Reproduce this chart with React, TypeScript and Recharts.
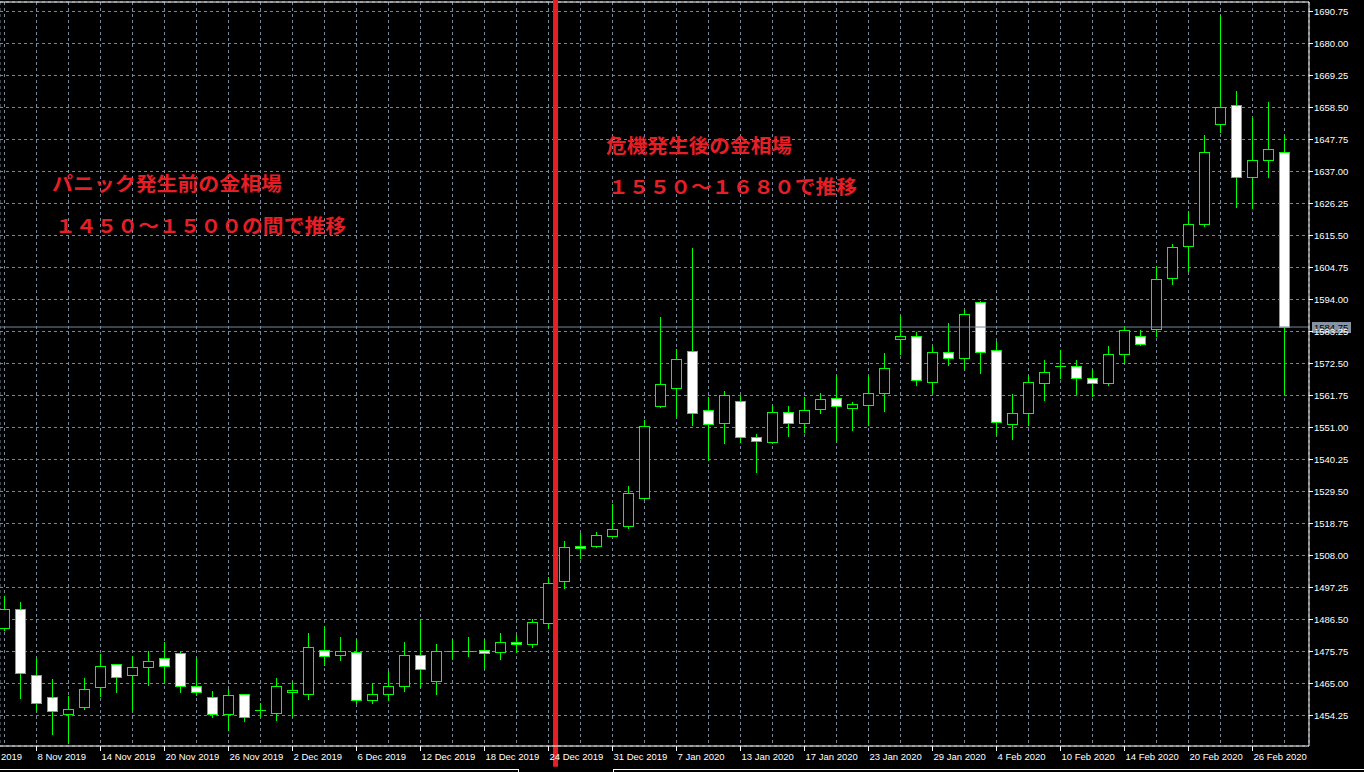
import React from 'react';
import { ComposedChart, Bar, XAxis, YAxis, CartesianGrid, ReferenceLine, Customized } from 'recharts';

const DATES = [
  '6 Nov 2019', '7 Nov 2019', '8 Nov 2019', '11 Nov 2019', '12 Nov 2019', '13 Nov 2019', '14 Nov 2019', '15 Nov 2019',
  '18 Nov 2019', '19 Nov 2019', '20 Nov 2019', '21 Nov 2019', '22 Nov 2019', '25 Nov 2019', '26 Nov 2019', '27 Nov 2019',
  '28 Nov 2019', '29 Nov 2019',
  '2 Dec 2019', '3 Dec 2019', '4 Dec 2019', '5 Dec 2019', '6 Dec 2019', '9 Dec 2019', '10 Dec 2019', '11 Dec 2019',
  '12 Dec 2019', '13 Dec 2019', '16 Dec 2019', '17 Dec 2019', '18 Dec 2019', '19 Dec 2019', '20 Dec 2019', '23 Dec 2019',
  '24 Dec 2019', '26 Dec 2019', '27 Dec 2019', '30 Dec 2019', '31 Dec 2019',
  '2 Jan 2020', '3 Jan 2020', '6 Jan 2020', '7 Jan 2020', '8 Jan 2020', '9 Jan 2020', '10 Jan 2020', '13 Jan 2020',
  '14 Jan 2020', '15 Jan 2020', '16 Jan 2020', '17 Jan 2020', '20 Jan 2020', '21 Jan 2020', '22 Jan 2020', '23 Jan 2020',
  '24 Jan 2020', '27 Jan 2020', '28 Jan 2020', '29 Jan 2020', '30 Jan 2020', '31 Jan 2020',
  '3 Feb 2020', '4 Feb 2020', '5 Feb 2020', '6 Feb 2020', '7 Feb 2020', '10 Feb 2020', '11 Feb 2020', '12 Feb 2020',
  '13 Feb 2020', '14 Feb 2020', '17 Feb 2020', '18 Feb 2020', '19 Feb 2020', '20 Feb 2020', '21 Feb 2020', '24 Feb 2020',
  '25 Feb 2020', '26 Feb 2020', '27 Feb 2020', '28 Feb 2020',
];

const OPEN = [
  1483.7, 1489.9, 1468.0, 1460.3, 1454.8, 1457.2, 1463.9, 1471.4, 1467.9, 1470.7, 1473.7, 1475.1, 1464.2, 1460.3, 1454.8, 1461.6,
  1456.1, 1455.1, 1462.3, 1461.6, 1476.4, 1474.7, 1475.7, 1459.6, 1461.6, 1464.0, 1474.7, 1466.0, 1475.8, 1476.0, 1476.1, 1475.7,
  1478.8, 1478.4, 1485.4, 1499.4, 1511.3, 1511.3, 1514.6, 1518.0, 1527.2, 1558.1, 1564.1, 1576.6, 1556.9, 1552.5, 1559.9, 1547.9,
  1546.2, 1556.3, 1552.6, 1557.3, 1560.9, 1557.6, 1558.6, 1562.6, 1580.8, 1581.6, 1566.4, 1576.5, 1574.2, 1593.0, 1577.2, 1552.3,
  1556.0, 1566.1, 1571.8, 1571.5, 1567.5, 1566.1, 1575.8, 1581.9, 1584.2, 1601.3, 1612.0, 1619.4, 1653.0, 1659.2, 1635.3, 1641.0,
  1643.4,
];

const HIGH = [
  1494.3, 1492.3, 1473.4, 1466.5, 1460.7, 1467.0, 1474.9, 1471.4, 1474.2, 1475.9, 1478.9, 1475.5, 1473.8, 1462.4, 1463.1, 1461.6,
  1458.3, 1466.7, 1465.8, 1481.9, 1484.3, 1480.6, 1479.9, 1465.3, 1469.3, 1478.9, 1486.8, 1478.2, 1479.9, 1480.6, 1479.9, 1481.9,
  1481.2, 1486.5, 1500.7, 1512.7, 1515.4, 1515.9, 1525.3, 1531.4, 1553.5, 1588.1, 1577.4, 1611.2, 1561.4, 1563.4, 1561.7, 1548.9,
  1558.6, 1558.3, 1561.4, 1562.7, 1568.7, 1559.4, 1568.3, 1575.9, 1588.6, 1583.1, 1578.3, 1586.0, 1590.6, 1593.4, 1580.0, 1562.1,
  1568.5, 1573.8, 1576.9, 1573.8, 1570.5, 1578.3, 1585.0, 1583.6, 1605.1, 1612.8, 1623.7, 1649.2, 1689.5, 1664.0, 1655.0, 1660.3,
  1649.4,
];

const LOW = [
  1483.1, 1460.2, 1456.0, 1448.1, 1445.1, 1456.5, 1460.7, 1462.2, 1456.0, 1464.4, 1465.3, 1462.2, 1461.2, 1453.8, 1449.3, 1452.5,
  1454.0, 1452.9, 1453.6, 1459.8, 1471.3, 1473.0, 1458.5, 1458.5, 1459.6, 1462.5, 1463.7, 1461.5, 1473.1, 1474.2, 1469.9, 1473.3,
  1475.5, 1477.3, 1483.8, 1497.2, 1507.1, 1510.7, 1514.5, 1517.2, 1527.0, 1558.0, 1555.0, 1552.0, 1540.1, 1545.8, 1546.2, 1536.2,
  1545.8, 1548.2, 1549.5, 1556.0, 1546.4, 1550.2, 1551.8, 1556.6, 1575.7, 1565.3, 1563.0, 1572.0, 1570.5, 1569.4, 1548.9, 1547.2,
  1551.9, 1560.4, 1567.7, 1562.1, 1561.7, 1565.3, 1572.5, 1578.8, 1581.9, 1599.2, 1603.6, 1618.6, 1650.4, 1625.1, 1624.6, 1635.2,
  1562.3,
];

const CLOSE = [
  1489.9, 1468.4, 1458.6, 1455.6, 1456.3, 1463.3, 1471.0, 1467.2, 1470.7, 1472.4, 1471.0, 1464.3, 1462.0, 1454.8, 1461.3, 1453.8,
  1456.0, 1464.0, 1462.7, 1477.4, 1474.4, 1475.8, 1459.6, 1461.6, 1464.3, 1474.7, 1469.7, 1475.8, 1476.0, 1476.0, 1475.4, 1478.8,
  1478.1, 1485.5, 1498.9, 1510.9, 1510.6, 1514.9, 1517.0, 1529.0, 1551.5, 1565.5, 1573.9, 1556.0, 1552.2, 1561.9, 1547.8, 1546.6,
  1556.3, 1552.6, 1556.9, 1560.6, 1558.3, 1559.0, 1562.6, 1570.9, 1581.6, 1567.1, 1576.5, 1574.2, 1589.0, 1576.5, 1552.7, 1556.0,
  1566.4, 1569.8, 1571.8, 1567.5, 1565.8, 1575.8, 1583.9, 1579.2, 1601.0, 1611.5, 1619.5, 1643.7, 1658.5, 1635.0, 1640.7, 1644.4,
  1584.75,
];

const LABEL_TICKS = [-2, 2, 6, 10, 14, 18, 22, 26, 30, 34, 38, 42, 46, 50, 54, 58, 62, 66, 70, 74, 78];
const LABEL_TEXT = [
  '4 Nov 2019', '8 Nov 2019', '14 Nov 2019', '20 Nov 2019', '26 Nov 2019', '2 Dec 2019', '6 Dec 2019', '12 Dec 2019',
  '18 Dec 2019', '24 Dec 2019', '31 Dec 2019', '7 Jan 2020', '13 Jan 2020', '17 Jan 2020', '23 Jan 2020', '29 Jan 2020',
  '4 Feb 2020', '10 Feb 2020', '14 Feb 2020', '20 Feb 2020', '26 Feb 2020',
];

const PRICE_TICKS = [
  1454.25, 1465.0, 1475.75, 1486.5, 1497.25, 1508.0, 1518.75, 1529.5, 1540.25, 1551.0, 1561.75, 1572.5,
  1583.25, 1594.0, 1604.75, 1615.5, 1626.25, 1637.0, 1647.75, 1658.5, 1669.25, 1680.0, 1690.75,
];

const BID_PRICE = 1584.75;
const CRISIS_INDEX = 34.44;
const CRISIS_PRICE_RANGE = [1437.0, 1694.6];
const X_DOMAIN = [-0.28125, 81.53125];
const Y_DOMAIN = [1444.0, 1693.94];

const NOTES = [
  { text: 'パニック発生前の金相場', x: 52, y: 191, w: 230 },
  { text: '１４５０～１５００の間で推移', x: 55, y: 233, w: 291 },
  { text: '危機発生後の金相場', x: 606, y: 153, w: 186 },
  { text: '１５５０～１６８０で推移', x: 608, y: 194, w: 249 },
];

const X_TICKS = Array.from({ length: 42 }, (_, k) => -2 + 2 * k);

const DATA = DATES.map((d, i) => ({
  i,
  date: d,
  open: OPEN[i],
  high: HIGH[i],
  low: LOW[i],
  close: CLOSE[i],
}));

const GREEN = '#00ff00';
const GRID = '#778899';
const RED = '#e61e26';
const AXIS_FONT = "'Liberation Sans', Arial, sans-serif";

function Candle(props: any) {
  const { x, y, width, height, payload } = props;
  if (x == null || y == null || payload == null) return null;
  const { open, close, high, low } = payload;
  const cx = Math.floor(x + width / 2) + 0.5;
  const span = high - low || 1;
  const py = (v: number) => y + ((high - v) / span) * height;
  const top = Math.round(py(Math.max(open, close))) + 0.5;
  const bot = Math.round(py(Math.min(open, close))) + 0.5;
  const yH = Math.round(py(high));
  const yL = Math.round(py(low)) + 1;
  const bull = close >= open;
  return (
    <g>
      <line x1={cx} x2={cx} y1={yH} y2={yL} stroke={GREEN} strokeWidth={1} />
      {bot - top < 1 ? (
        <line x1={cx - 5.5} x2={cx + 5.5} y1={top} y2={top} stroke={GREEN} strokeWidth={1} />
      ) : (
        <rect x={cx - 5} y={top} width={10} height={bot - top} fill={bull ? '#000000' : '#ffffff'} stroke={GREEN} strokeWidth={1} />
      )}
    </g>
  );
}

function XTick(props: any) {
  const { x, y, payload } = props;
  const idx = LABEL_TICKS.indexOf(payload.value);
  if (idx < 0) return null;
  const px = Math.floor(x) + 0.5;
  return (
    <g>
      <line x1={px} x2={px} y1={y - 5} y2={y} stroke="#ffffff" strokeWidth={1} />
      <text x={px + 1} y={y + 9} fill="#ffffff" fontSize={9.5} fontFamily={AXIS_FONT} textAnchor="start">
        {LABEL_TEXT[idx]}
      </text>
    </g>
  );
}

function BidLabel(props: any) {
  const vb = props.viewBox || {};
  const x = (vb.x || 0) + (vb.width || 0);
  const y = vb.y || 0;
  return (
    <g>
      <rect x={x + 3} y={y - 5} width={39} height={11} fill="#8593a3" />
      <text x={x + 5} y={y + 4} fill="#000000" fontSize={9.5} fontFamily={AXIS_FONT}>
        {BID_PRICE.toFixed(2)}
      </text>
    </g>
  );
}

function Overlay() {
  return (
    <g>
      {NOTES.map((n) => (
        <text
          key={n.text}
          x={n.x}
          y={n.y}
          fill={RED}
          fontSize={19}
          fontWeight="bold"
          fontFamily="'Noto Sans CJK JP', sans-serif"
          textLength={n.w}
          lengthAdjust="spacingAndGlyphs"
        >
          {n.text}
        </text>
      ))}
      <line x1={0} x2={518} y1={769.5} y2={769.5} stroke="#ffffff" strokeWidth={1} />
      <line x1={518.5} x2={518.5} y1={769} y2={772} stroke="#ffffff" strokeWidth={1} />
      <line x1={613} x2={1364} y1={769.5} y2={769.5} stroke="#ffffff" strokeWidth={1} />
      <line x1={613.5} x2={613.5} y1={769} y2={772} stroke="#ffffff" strokeWidth={1} />
    </g>
  );
}

export default function App() {
  return (
    <div style={{ position: 'absolute', left: 0, top: 0, width: 1364, height: 772, background: '#000000', overflow: 'hidden' }}>
      <ComposedChart width={1364} height={772} data={DATA} margin={{ top: 2, right: 0, bottom: 0, left: 0 }}>
        <CartesianGrid stroke={GRID} strokeDasharray="3 3" vertical horizontal />
        <XAxis
          dataKey="i"
          type="number"
          domain={X_DOMAIN}
          allowDataOverflow
          ticks={X_TICKS}
          interval={0}
          height={26}
          axisLine={{ stroke: '#ffffff' }}
          tickLine={false}
          tickSize={5}
          tickMargin={0}
          tick={<XTick />}
        />
        <YAxis
          orientation="right"
          type="number"
          domain={Y_DOMAIN}
          allowDataOverflow
          ticks={PRICE_TICKS}
          interval={0}
          width={55}
          axisLine={{ stroke: '#ffffff' }}
          tickLine={{ stroke: '#ffffff' }}
          tickSize={4}
          tickMargin={1}
          tick={{ fill: '#ffffff', fontSize: 9.5, fontFamily: AXIS_FONT }}
          tickFormatter={(v: number) => v.toFixed(2)}
        />
        <ReferenceLine y={Y_DOMAIN[1]} stroke="#ffffff" ifOverflow="visible" />
        <ReferenceLine y={BID_PRICE} stroke={GRID} label={(p: any) => <BidLabel {...p} />} />
        <Bar
          dataKey={(d: any) => [d.low, d.high]}
          barSize={11}
          shape={(p: any) => <Candle {...p} />}
          isAnimationActive={false}
        />
        <ReferenceLine
          segment={[
            { x: CRISIS_INDEX, y: CRISIS_PRICE_RANGE[0] },
            { x: CRISIS_INDEX, y: CRISIS_PRICE_RANGE[1] },
          ]}
          ifOverflow="visible"
          stroke={RED}
          strokeWidth={5}
        />
        <Customized component={<Overlay />} />
      </ComposedChart>
    </div>
  );
}
